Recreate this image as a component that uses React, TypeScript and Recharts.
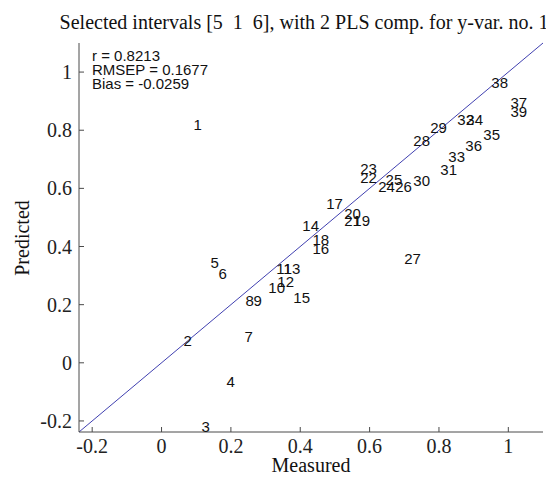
import { ScatterChart, Scatter, XAxis, YAxis, ReferenceLine } from 'recharts'

const sampleIds = [
  '1', '2', '3', '4', '5', '6', '7', '8', '9', '10',
  '11', '12', '13', '14', '15', '16', '17', '18', '19', '20',
  '21', '22', '23', '24', '25', '26', '27', '28', '29', '30',
  '31', '32', '33', '34', '35', '36', '37', '38', '39',
]
const measured = [
  0.092, 0.063, 0.115, 0.187, 0.141, 0.164, 0.239, 0.242, 0.265, 0.308,
  0.331, 0.334, 0.352, 0.406, 0.380, 0.435, 0.475, 0.435, 0.553, 0.527,
  0.527, 0.573, 0.573, 0.625, 0.646, 0.674, 0.700, 0.726, 0.775, 0.726,
  0.804, 0.853, 0.827, 0.879, 0.928, 0.876, 1.006, 0.951, 1.006,
]
const predicted = [
  0.820, 0.078, -0.218, -0.063, 0.344, 0.308, 0.090, 0.216, 0.216, 0.259,
  0.326, 0.278, 0.326, 0.471, 0.226, 0.392, 0.547, 0.423, 0.489, 0.513,
  0.489, 0.637, 0.668, 0.606, 0.630, 0.606, 0.359, 0.765, 0.809, 0.626,
  0.664, 0.837, 0.709, 0.837, 0.785, 0.747, 0.894, 0.963, 0.864,
]
const axisTicks = [-0.2, 0, 0.2, 0.4, 0.6, 0.8, 1]
const axisLimits: [number, number] = [-0.238, 1.1]
const statLines = ['r = 0.8213', 'RMSEP = 0.1677', 'Bias = -0.0259']
const title = 'Selected intervals [5  1  6], with 2 PLS comp. for y-var. no. 1'

const points = sampleIds.map((id, i) => ({ id, x: measured[i], y: predicted[i] }))

// plot box inside the svg (matches chart margins below)
const PLOT_LEFT = 71
const PLOT_RIGHT = 535
const PLOT_TOP = 35
const PLOT_BOTTOM = 424
const TICK_LEN = 5
const FRAME = '#4a4a4a'
const SERIF = '"Liberation Serif", "Times New Roman", serif'
const SANS = '"Liberation Sans", Arial, sans-serif'

const BottomTick = (props: any) => {
  const { x, payload } = props
  return (
    <g>
      <line x1={x} x2={x} y1={PLOT_BOTTOM} y2={PLOT_BOTTOM - TICK_LEN} stroke={FRAME} />
      <text x={x} y={PLOT_BOTTOM + 14} textAnchor="middle" dominantBaseline="central"
        fontFamily={SERIF} fontSize={20} fill="#222">{String(payload.value)}</text>
    </g>
  )
}

const TopTick = (props: any) => {
  const { x } = props
  return <line x1={x} x2={x} y1={PLOT_TOP} y2={PLOT_TOP + TICK_LEN} stroke={FRAME} />
}

const LeftTick = (props: any) => {
  const { y, payload } = props
  return (
    <g>
      <line x1={PLOT_LEFT} x2={PLOT_LEFT + TICK_LEN} y1={y} y2={y} stroke={FRAME} />
      <text x={PLOT_LEFT - 7} y={y} textAnchor="end" dominantBaseline="central"
        fontFamily={SERIF} fontSize={20} fill="#222">{String(payload.value)}</text>
    </g>
  )
}

const RightTick = (props: any) => {
  const { y } = props
  return <line x1={PLOT_RIGHT} x2={PLOT_RIGHT - TICK_LEN} y1={y} y2={y} stroke={FRAME} />
}

const SampleLabel = (props: any) => {
  const { cx, cy, payload } = props
  return (
    <text x={cx} y={cy} dominantBaseline="central" fontFamily={SANS} fontSize={15} fill="#111">
      {payload.id}
    </text>
  )
}

export default function App() {
  return (
    <div style={{ position: 'relative', width: 546, height: 472 }}>
      <ScatterChart width={546} height={472} margin={{ top: 35, right: 11, bottom: 18, left: 11 }}>
        <XAxis type="number" dataKey="x" domain={axisLimits} ticks={axisTicks} allowDataOverflow
          height={30} stroke={FRAME} tickLine={false} tick={BottomTick} interval={0} />
        <XAxis xAxisId="top" orientation="top" type="number" domain={axisLimits} ticks={axisTicks}
          allowDataOverflow height={0} stroke={FRAME} tickLine={false} tick={TopTick} interval={0} />
        <YAxis type="number" dataKey="y" domain={axisLimits} ticks={axisTicks} allowDataOverflow
          width={60} stroke={FRAME} tickLine={false} tick={LeftTick} interval={0} />
        <YAxis yAxisId="right" orientation="right" type="number" domain={axisLimits} ticks={axisTicks}
          allowDataOverflow width={0} stroke={FRAME} tickLine={false} tick={RightTick} interval={0} />
        <ReferenceLine
          segment={[{ x: axisLimits[0], y: axisLimits[0] }, { x: axisLimits[1], y: axisLimits[1] }]}
          stroke="#4040b0" strokeWidth={1} ifOverflow="visible"
        />
        <Scatter data={points} shape={SampleLabel} isAnimationActive={false} />
      </ScatterChart>

      <div style={{ position: 'absolute', left: 296, top: 4, transform: 'translateX(-50%)',
        whiteSpace: 'pre', fontFamily: SERIF, fontSize: 20, lineHeight: '20px', color: '#111' }}>
        {title}
      </div>
      <div style={{ position: 'absolute', left: 84, top: 41, fontFamily: SANS, fontSize: 15,
        lineHeight: '14px', color: '#111' }}>
        {statLines.map((s) => <div key={s}>{s}</div>)}
      </div>
      <div style={{ position: 'absolute', left: 303, top: 457, transform: 'translate(-50%, -50%)',
        whiteSpace: 'nowrap', fontFamily: SERIF, fontSize: 20, color: '#111' }}>
        Measured
      </div>
      <div style={{ position: 'absolute', left: 14, top: 230, transform: 'translate(-50%, -50%) rotate(-90deg)',
        whiteSpace: 'nowrap', fontFamily: SERIF, fontSize: 20, color: '#111' }}>
        Predicted
      </div>
    </div>
  )
}
